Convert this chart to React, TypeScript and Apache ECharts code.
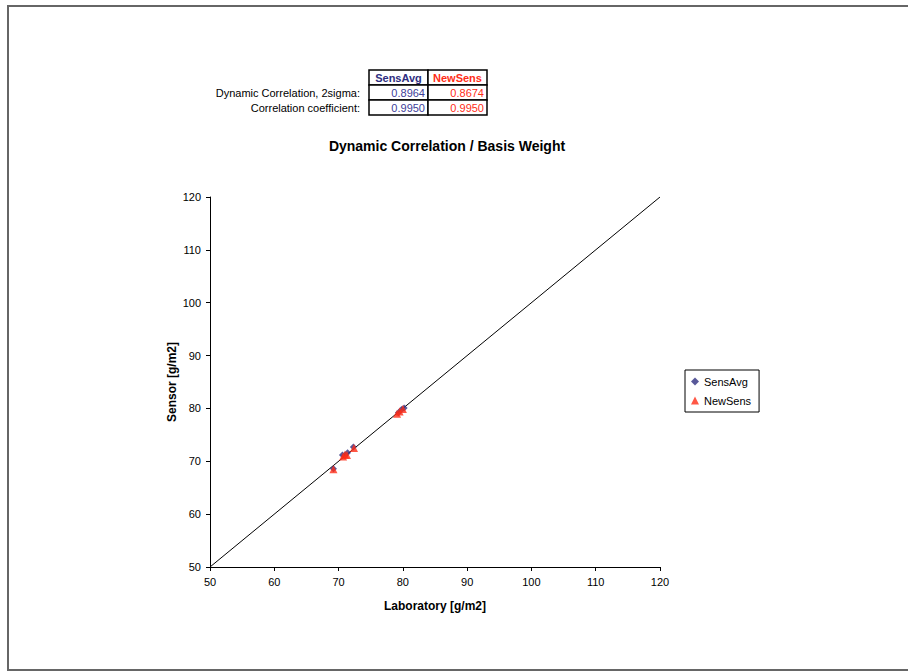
import React, { useEffect, useRef } from "react";
import * as echarts from "echarts";

const seriesNames = ["SensAvg", "NewSens"];
const sensAvgLab = [69.2, 70.6, 71.0, 71.4, 72.3, 79.3, 79.8, 80.2];
const sensAvgSensor = [68.6, 71.2, 71.1, 71.6, 72.7, 79.2, 79.8, 80.1];
const newSensLab = [69.2, 70.7, 71.0, 71.3, 72.4, 79.1, 79.5, 80.0];
const newSensSensor = [68.5, 70.9, 71.3, 71.2, 72.5, 79.0, 79.4, 79.9];
const diagonal = [50, 120];
const tableRowLabels = ["Dynamic Correlation, 2sigma:", "Correlation coefficient:"];
const sensAvgStats = ["0.8964", "0.9950"];
const newSensStats = ["0.8674", "0.9950"];

const FONT = "'Liberation Sans', Arial, sans-serif";
const NAVY = "#2e2e80";
const NAVY_TXT = "#40409a";
const RED = "#ff2d17";

export default function App() {
  const ref = useRef<HTMLDivElement>(null);
  useEffect(() => {
    if (!ref.current) return;
    const chart = echarts.init(ref.current, undefined, { renderer: "svg" });
    const pairs = (xs: number[], ys: number[]) => xs.map((x, i) => [x, ys[i]]);

    const tx = 369, c1 = 428, c2 = 487;
    const ry = [70, 85, 100, 115];
    const graphic: any[] = [
      { type: "rect", shape: { x: 8, y: 6, width: 940, height: 664 }, style: { fill: "none", stroke: "#666", lineWidth: 2 }, z: 0, silent: true },
      { type: "text", x: 447, y: 146, style: { text: "Dynamic Correlation / Basis Weight", font: `bold 14px ${FONT}`, fill: "#000", align: "center", verticalAlign: "middle" } },
      // table header
      { type: "rect", shape: { x: tx, y: ry[0], width: c1 - tx, height: ry[1] - ry[0] }, style: { fill: "#fff", stroke: "#000", lineWidth: 1.5 } },
      { type: "rect", shape: { x: c1, y: ry[0], width: c2 - c1, height: ry[1] - ry[0] }, style: { fill: "#fff", stroke: "#000", lineWidth: 1.5 } },
      { type: "text", x: (tx + c1) / 2, y: (ry[0] + ry[1]) / 2 + 0.5, style: { text: seriesNames[0], font: `bold 11px ${FONT}`, fill: NAVY, align: "center", verticalAlign: "middle" } },
      { type: "text", x: (c1 + c2) / 2, y: (ry[0] + ry[1]) / 2 + 0.5, style: { text: seriesNames[1], font: `bold 11px ${FONT}`, fill: RED, align: "center", verticalAlign: "middle" } },
    ];
    tableRowLabels.forEach((lab, i) => {
      const y0 = ry[i + 1], y1 = ry[i + 2];
      const cy = (y0 + y1) / 2 + 0.5;
      graphic.push(
        { type: "rect", shape: { x: tx, y: y0, width: c1 - tx, height: y1 - y0 }, style: { fill: "#fff", stroke: "#000", lineWidth: 1.5 } },
        { type: "rect", shape: { x: c1, y: y0, width: c2 - c1, height: y1 - y0 }, style: { fill: "#fff", stroke: "#000", lineWidth: 1.5 } },
        { type: "text", x: 360, y: cy, style: { text: lab, font: `11px ${FONT}`, fill: "#000", align: "right", verticalAlign: "middle" } },
        { type: "text", x: c1 - 3, y: cy, style: { text: sensAvgStats[i], font: `11px ${FONT}`, fill: NAVY_TXT, align: "right", verticalAlign: "middle" } },
        { type: "text", x: c2 - 3, y: cy, style: { text: newSensStats[i], font: `11px ${FONT}`, fill: RED, align: "right", verticalAlign: "middle" } }
      );
    });

    const axisCommon = {
      type: "value",
      min: 50,
      max: 120,
      interval: 10,
      axisLine: { show: true, lineStyle: { color: "#000", width: 1 } },
      axisTick: { show: true, inside: false, length: 4, lineStyle: { color: "#000" } },
      axisLabel: { color: "#000", fontSize: 11, fontFamily: FONT, margin: 9 },
      splitLine: { show: false },
      nameLocation: "middle",
      nameTextStyle: { color: "#000", fontSize: 12, fontWeight: "bold", fontFamily: FONT },
    };

    chart.setOption({
      animation: false,
      backgroundColor: "#fff",
      grid: { left: 210, top: 197, width: 450, height: 370, containLabel: false },
      xAxis: { ...axisCommon, name: "Laboratory [g/m2]", nameGap: 33 },
      yAxis: { ...axisCommon, name: "Sensor [g/m2]", nameGap: 32 },
      legend: {
        data: seriesNames,
        orient: "vertical",
        left: 685,
        top: 370,
        borderColor: "#000",
        borderWidth: 1,
        padding: [6, 8, 6, 6],
        itemWidth: 8,
        itemHeight: 8,
        itemGap: 8,
        textStyle: { color: "#000", fontSize: 11, fontFamily: FONT },
      },
      graphic,
      series: [
        {
          type: "line",
          name: "diag",
          data: [[diagonal[0], diagonal[0]], [diagonal[1], diagonal[1]]],
          showSymbol: false,
          symbol: "none",
          lineStyle: { color: "#000", width: 1 },
          z: 1,
        },
        {
          type: "scatter",
          name: seriesNames[0],
          data: pairs(sensAvgLab, sensAvgSensor),
          symbol: "diamond",
          symbolSize: 7,
          itemStyle: { color: NAVY },
          z: 2,
        },
        {
          type: "scatter",
          name: seriesNames[1],
          data: pairs(newSensLab, newSensSensor),
          symbol: "triangle",
          symbolSize: 8,
          itemStyle: { color: RED },
          z: 3,
        },
      ],
    });
    return () => chart.dispose();
  }, []);
  return <div ref={ref} style={{ position: "fixed", left: 0, top: 0, width: 908, height: 672 }} />;
}
